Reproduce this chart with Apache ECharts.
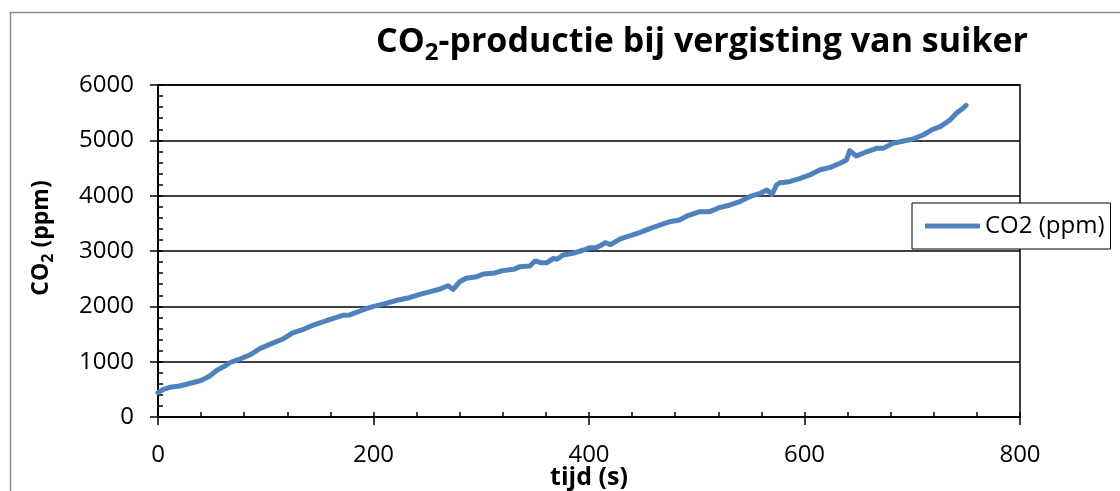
<!DOCTYPE html>
<html>
<head>
<meta charset="utf-8">
<script src="https://cdn.jsdelivr.net/npm/echarts@6/dist/echarts.min.js"></script>
<style>
  html, body { margin: 0; padding: 0; background: #fff; }
  #chart { width: 1120px; height: 491px; }
</style>
</head>
<body>
<div id="chart"></div>
<script>
// Measured CO2 concentration during sugar fermentation
const tijd = [0, 5, 11, 20, 30, 40, 48, 55, 62, 67, 75, 85, 95, 107, 116, 125, 135, 144, 160, 172,
  178, 190, 200, 209, 222, 234, 243, 252, 262, 269, 274, 280, 286, 296, 302, 311, 320, 330, 336, 345,
  350, 355, 361, 367, 370, 376, 385, 395, 401, 407, 410, 415, 420, 429, 447, 457, 475, 484, 491, 503,
  512, 521, 531, 540, 549, 559, 565, 570, 574, 577, 586, 596, 605, 614, 624, 633, 639, 642, 648, 658,
  667, 673, 682, 692, 700, 710, 719, 726, 735, 741, 747, 750];
const co2 = [440, 500, 537, 560, 610, 660, 740, 850, 920, 985, 1040, 1120, 1240, 1340, 1410, 1520, 1585, 1660, 1766, 1840,
  1845, 1934, 2000, 2040, 2110, 2160, 2217, 2260, 2313, 2373, 2307, 2446, 2506, 2536, 2585, 2597, 2645, 2669, 2717, 2729,
  2820, 2789, 2789, 2868, 2850, 2928, 2958, 3018, 3060, 3065, 3090, 3150, 3115, 3220, 3331, 3410, 3530, 3560, 3633, 3711,
  3711, 3783, 3832, 3892, 3982, 4043, 4103, 4025, 4193, 4235, 4253, 4313, 4374, 4464, 4512, 4585, 4645, 4813, 4717, 4795,
  4855, 4855, 4946, 4988, 5019, 5097, 5199, 5247, 5368, 5488, 5578, 5630];

const seriesName = 'CO2 (ppm)';
// [before subscript, subscript, after subscript]
const titleParts = ['CO', '2', '-productie bij vergisting van suiker'];
const yNameParts = ['CO', '2', ' (ppm)'];
const xAxisName = 'tijd (s)';

const xRange = [0, 800], xStep = 200, xMinorStep = 40;
const yRange = [0, 6000], yStep = 1000, yMinorStep = 200;

const points = tijd.map((t, i) => [t, co2[i]]);

const labelFont = 'Open Sans';
const measureCtx = document.createElement('canvas').getContext('2d');
function textWidth(text, size, weight) {
  measureCtx.font = weight + ' ' + size + 'px "' + labelFont + '"';
  return measureCtx.measureText(text).width;
}

// Text with a lowered subscript, built from three plain text pieces
function subscriptText(parts, opt) {
  const w0 = textWidth(parts[0], opt.size, 'bold');
  const w1 = textWidth(parts[1], opt.subSize, 'bold');
  const w2 = textWidth(parts[2], opt.size, 'bold');
  const start = opt.align === 'center' ? -(w0 + w1 + w2) / 2 : 0;
  const piece = (text, x, y, size) => ({
    type: 'text', x: x, y: y, silent: true,
    style: { text: text, align: 'left', verticalAlign: 'middle', fontFamily: labelFont, fontWeight: 'bold', fontSize: size, fill: '#000' }
  });
  return {
    type: 'group', x: opt.x, y: opt.y, rotation: opt.rotation || 0, silent: true,
    children: [
      piece(parts[0], start, 0, opt.size),
      piece(parts[1], start + w0, opt.subDy, opt.subSize),
      piece(parts[2], start + w0 + w1, 0, opt.size)
    ]
  };
}

const chart = echarts.init(document.getElementById('chart'), null, { renderer: 'canvas' });

chart.setOption({
  animation: false,
  backgroundColor: '#fff',
  grid: {
    left: 158, right: 100, top: 85, bottom: 74,
    show: true, borderColor: '#000', borderWidth: 1.5, backgroundColor: 'transparent'
  },
  legend: {
    left: 912, top: 203,
    padding: [10, 6, 10, 13],
    backgroundColor: '#fff',
    borderColor: '#000',
    borderWidth: 1,
    itemWidth: 55, itemHeight: 5,
    data: [{ name: seriesName, icon: 'roundRect' }],
    textStyle: { fontFamily: labelFont, fontSize: 24, color: '#000', lineHeight: 26 }
  },
  xAxis: [
    {
      type: 'value', min: xRange[0], max: xRange[1], interval: xStep,
      axisLine: { show: true, onZero: false, lineStyle: { color: '#000', width: 2 } },
      axisTick: { show: true, inside: false, length: 8, lineStyle: { color: '#000', width: 1.5 } },
      axisLabel: { fontFamily: labelFont, fontSize: 24, color: '#000', margin: 26 },
      splitLine: { show: false }
    },
    {
      type: 'value', min: xRange[0], max: xRange[1], interval: xMinorStep, position: 'bottom',
      axisLine: { show: false },
      axisTick: { show: true, inside: true, length: 5, lineStyle: { color: '#000', width: 1.5 } },
      axisLabel: { show: false },
      splitLine: { show: false }
    }
  ],
  yAxis: [
    {
      type: 'value', min: yRange[0], max: yRange[1], interval: yStep,
      axisLine: { show: true, onZero: false, lineStyle: { color: '#000', width: 2 } },
      axisTick: { show: true, inside: false, length: 8, lineStyle: { color: '#000', width: 1.5 } },
      axisLabel: { fontFamily: labelFont, fontSize: 24, color: '#000', margin: 24, formatter: v => String(v) },
      splitLine: { show: true, lineStyle: { color: '#000', width: 1.5 } }
    },
    {
      type: 'value', min: yRange[0], max: yRange[1], interval: yMinorStep, position: 'left',
      axisLine: { show: false },
      axisTick: { show: true, inside: true, length: 5, lineStyle: { color: '#000', width: 1.5 } },
      axisLabel: { show: false },
      splitLine: { show: false }
    }
  ],
  series: [{
    name: seriesName,
    type: 'line',
    xAxisIndex: 0, yAxisIndex: 0,
    data: points,
    showSymbol: false,
    symbol: 'none',
    color: '#4F81BD',
    lineStyle: { color: '#4F81BD', width: 5, cap: 'round', join: 'round' },
    z: 3
  }],
  graphic: [
    {
      type: 'rect', silent: true, z: -10,
      shape: { x: 10.5, y: 12.5, width: 1200, height: 600 },
      style: { fill: 'none', stroke: '#8e8e8e', lineWidth: 1.5 }
    },
    subscriptText(titleParts, { x: 376, y: 42, size: 34, subSize: 24, subDy: 11, align: 'left' }),
    subscriptText(yNameParts, { x: 41, y: 238, rotation: Math.PI / 2, size: 23, subSize: 16, subDy: 7, align: 'center' }),
    {
      type: 'text', silent: true,
      x: 589, y: 465,
      style: {
        text: xAxisName, align: 'center', verticalAlign: 'top',
        fontFamily: labelFont, fontWeight: 'bold', fontSize: 25, fill: '#000'
      }
    }
  ]
});
</script>
</body>
</html>
